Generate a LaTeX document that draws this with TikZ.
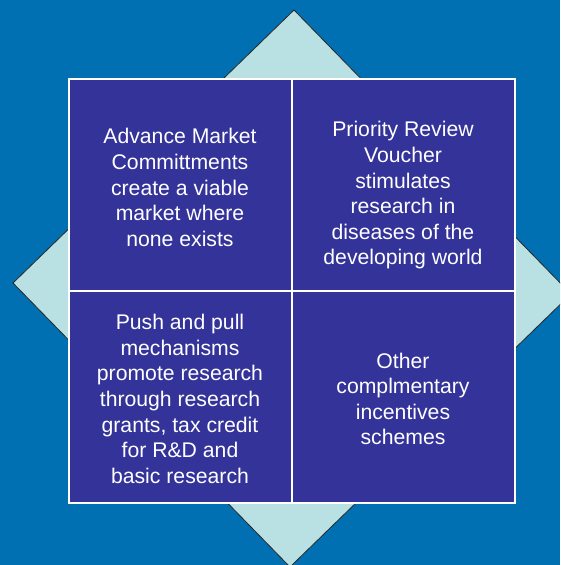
\documentclass[tikz,border=0pt]{standalone}
\usepackage{fontspec}
\setmainfont{Liberation Sans}
\definecolor{bgblue}{HTML}{0070B2}
\definecolor{pale}{HTML}{B9E0E2}
\definecolor{cellblue}{HTML}{343399}
\begin{document}
\begin{tikzpicture}[
      x=1pt, y=-1pt,
      cell/.style={
          rectangle,
          draw=white, fill=cellblue, line width=2pt,
          minimum width=223pt, minimum height=212pt,
        },
      txt/.style={
          align=center, text=white, yshift=-2.5pt,
          font=\fontsize{21.2}{25.6}\selectfont,
        }
    ]
    \fill[bgblue] (0,0) rectangle (560,565);
    \useasboundingbox (0,0) rectangle (560,565);

    % diamond behind the four cells
    \coordinate (top) at (294,10);
    \coordinate (left) at (13,283);
    \coordinate (bottom) at (290,567);
    \coordinate (right) at (571,294);
    \begin{scope}
      \clip (0,0) rectangle (560,565);
      \filldraw[fill=pale, draw=black!85, line width=0.8pt]
      (top) -- (left) -- (bottom) -- (right) -- cycle;
    \end{scope}

    \node[cell] (tl) at (180,185) {};
    \node[cell] (tr) at (403,185) {};
    \node[cell] (bl) at (180,396.5) {};
    \node[cell] (br) at (403,396.5) {};

    \node[txt] (amc) at (tl) {Advance Market\\Committments\\create a viable\\market where\\none exists};
    \node[txt, yshift=-8pt] (prv) at (tr) {Priority Review\\Voucher\\stimulates\\research in\\diseases of the\\developing world};
    \node[txt] (pp) at (bl) {Push and pull\\mechanisms\\promote research\\through research\\grants, tax credit\\for R\&D and\\basic research};
    \node[txt] (oth) at (br) {Other\\complmentary\\incentives\\schemes};
  \end{tikzpicture}
\end{document}
